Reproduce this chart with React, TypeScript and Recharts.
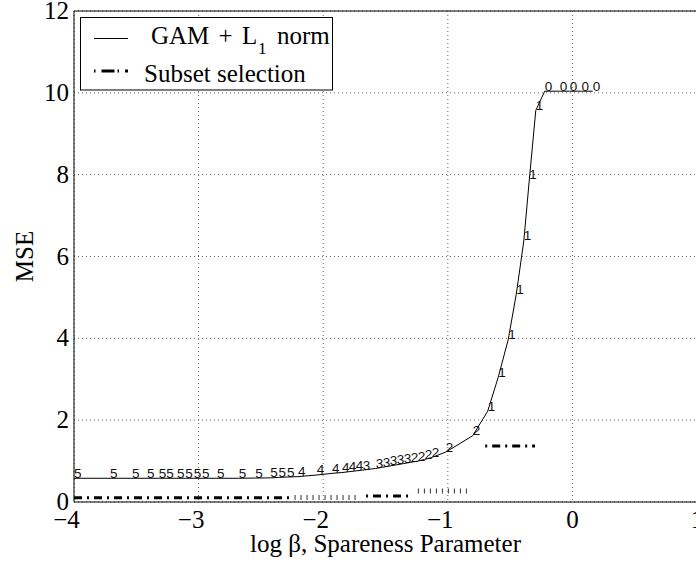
import React from 'react';
import { ComposedChart, Line, XAxis, YAxis, CartesianGrid, LabelList } from 'recharts';

// axes
const xTicks = [-4, -3, -2, -1, 0, 1];
const yTicks = [0, 2, 4, 6, 8, 10, 12];

// GAM + L1 norm path, with the number of kept terms written at each point
const gamX = [
  -4.0, -3.711, -3.534, -3.414, -3.32, -3.259, -3.173, -3.107, -3.039, -2.973, -2.852, -2.678, -2.545, -2.425, -2.358, -2.291,
  -2.203, -2.051, -1.93, -1.85, -1.794, -1.738,
  -1.682, -1.578, -1.522, -1.466, -1.409, -1.353,
  -1.297, -1.241, -1.185, -1.128, -1.016, -0.8,
  -0.68, -0.595, -0.515, -0.451, -0.39, -0.346, -0.294,
  -0.222, -0.102, -0.022, 0.074, 0.163,
];
const gamY = [
  0.58, 0.58, 0.58, 0.58, 0.58, 0.58, 0.58, 0.58, 0.58, 0.58, 0.58, 0.58, 0.585, 0.59, 0.6, 0.61,
  0.62, 0.66, 0.7, 0.72, 0.74, 0.76,
  0.78, 0.82, 0.85, 0.88, 0.91, 0.94,
  0.97, 1.0, 1.04, 1.09, 1.22, 1.62,
  2.22, 3.05, 3.97, 5.07, 6.38, 7.87, 9.57,
  10.04, 10.04, 10.04, 10.04, 10.04,
];
const gamK = [
  '5', '5', '5', '5', '5', '5', '5', '5', '5', '5', '5', '5', '5', '5', '5', '5',
  '4', '4', '4', '4', '4', '4',
  '3', '3', '3', '3', '3', '3',
  '2', '2', '2', '2', '2', '2',
  '1', '1', '1', '1', '1', '1', '1',
  '0', '0', '0', '0', '0',
];

// subset selection: flat pieces (start x, end x, level)
const subsetStart = [-4.0, -2.23, -1.656, -1.24, -0.7];
const subsetEnd = [-2.27, -1.7, -1.296, -0.82, -0.3];
const subsetLevel = [0.105, 0.11, 0.147, 0.27, 1.37];

const gamData = gamX.map((x, i) => ({ x, y: gamY[i], k: gamK[i] }));
const subsetData = subsetStart.map((s, i) => [
  { x: s, y: subsetLevel[i] },
  { x: subsetEnd[i], y: subsetLevel[i] },
]);

const serif = '"Liberation Serif", "Times New Roman", serif';
const sans = '"Liberation Sans", Arial, sans-serif';

// dash-dot pieces vs. the ones that only show as little ticks
const dashDot = { strokeWidth: 3, strokeDasharray: '8 5 2 5', stroke: '#000' };
const tickRow = { strokeWidth: 5, strokeDasharray: '1 5', stroke: '#333' };
const subsetStyle = [
  { ...dashDot, strokeDashoffset: 0 },
  tickRow,
  { ...dashDot, strokeDashoffset: 13 },
  tickRow,
  { ...dashDot, strokeDashoffset: 13 },
];

function XTick(props: any) {
  const { x, y, payload } = props;
  const v = payload.value;
  const txt = v < 0 ? `\u2212${Math.abs(v)}` : String(v);
  return (
    <text x={x + (v < 0 ? -7.5 : 0)} y={y + 26} textAnchor="middle" fontFamily={serif} fontSize={25} fill="#000">
      {txt}
    </text>
  );
}

function YTick(props: any) {
  const { x, y, payload } = props;
  return (
    <text x={x - 5} y={y + 8} textAnchor="end" fontFamily={serif} fontSize={25} fill="#000">
      {payload.value}
    </text>
  );
}

function StepLabel(props: any) {
  const { x, y, value } = props;
  return (
    <text x={x} y={y - 0.5} fontFamily={sans} fontSize={13.5} fill="#111">
      {value}
    </text>
  );
}

function LegendBox() {
  return (
    <svg width={696} height={120} style={{ position: 'absolute', left: 0, top: 0, pointerEvents: 'none' }}>
      <rect x={80.5} y={17.5} width={252} height={72.5} fill="#fff" stroke="#000" strokeWidth={1} />
      <line x1={94} x2={128} y1={38.5} y2={38.5} stroke="#000" strokeWidth={1} />
      <text fontFamily={serif} fontSize={25} fill="#000">
        <tspan x={151} y={43.5} wordSpacing={3}>GAM + L</tspan>
        <tspan x={258} y={54} fontSize={17}>1</tspan>
        <tspan x={277} y={43.5}>norm</tspan>
      </text>
      <line
        x1={94}
        x2={128}
        y1={71}
        y2={71}
        stroke="#000"
        strokeWidth={3}
        strokeDasharray="1.5 6 13 3"
      />
      <text x={144} y={82} fontFamily={serif} fontSize={25} fill="#000">
        Subset selection
      </text>
    </svg>
  );
}

export default function App() {
  return (
    <div
      style={{
        position: 'absolute',
        left: 0,
        top: 0,
        width: 696,
        height: 563,
        overflow: 'hidden',
        background: '#fff',
      }}
    >
      <ComposedChart width={720} height={563} margin={{ top: 11, right: 23, bottom: 31, left: 34 }}>
        <CartesianGrid stroke="#666" strokeDasharray="1 3" />

        <XAxis
          dataKey="x"
          type="number"
          domain={[-4, 1]}
          ticks={xTicks}
          interval={0}
          allowDataOverflow
          height={30}
          tickLine={false}
          tickSize={0}
          tickMargin={0}
          stroke="#000"
          tick={(p: any) => <XTick {...p} />}
          label={{
            content: (p: any) => {
              const vb = p.viewBox;
              return (
                <text
                  x={vb.x + vb.width / 2}
                  y={vb.y + 50}
                  textAnchor="middle"
                  fontFamily={serif}
                  fontSize={25}
                  fill="#000"
                >
                  log β, Spareness Parameter
                </text>
              );
            },
          }}
        />
        <YAxis
          type="number"
          domain={[0, 12]}
          ticks={yTicks}
          interval={0}
          allowDataOverflow
          width={40}
          tickLine={false}
          tickSize={0}
          tickMargin={0}
          stroke="#000"
          tick={(p: any) => <YTick {...p} />}
          label={{
            content: (p: any) => {
              const vb = p.viewBox;
              const cx = vb.x - 1;
              const cy = vb.y + vb.height / 2;
              return (
                <text
                  x={cx}
                  y={cy}
                  transform={`rotate(-90 ${cx} ${cy})`}
                  textAnchor="middle"
                  fontFamily={serif}
                  fontSize={25}
                  fill="#000"
                >
                  MSE
                </text>
              );
            },
          }}
        />

        {/* inward ticks and the rest of the box */}
        <XAxis xAxisId="top" orientation="top" type="number" domain={[-4, 1]} ticks={xTicks} interval={0}
          mirror tick={false} tickSize={6} stroke="#000" height={10} allowDataOverflow />
        <XAxis xAxisId="bm" orientation="bottom" type="number" domain={[-4, 1]} ticks={xTicks} interval={0}
          mirror tick={false} tickSize={6} axisLine={false} stroke="#000" height={10} allowDataOverflow />
        <YAxis yAxisId="right" orientation="right" type="number" domain={[0, 12]} ticks={yTicks} interval={0}
          mirror tick={false} tickSize={6} stroke="#000" width={10} allowDataOverflow />
        <YAxis yAxisId="lm" orientation="left" type="number" domain={[0, 12]} ticks={yTicks} interval={0}
          mirror tick={false} tickSize={6} axisLine={false} stroke="#000" width={10} allowDataOverflow />

        {subsetData.map((d, i) => (
          <Line
            key={`subset-${i}`}
            data={d}
            dataKey="y"
            type="linear"
            dot={false}
            activeDot={false}
            isAnimationActive={false}
            {...subsetStyle[i]}
          />
        ))}

        <Line
          data={gamData}
          dataKey="y"
          type="linear"
          stroke="#000"
          strokeWidth={1}
          dot={false}
          activeDot={false}
          isAnimationActive={false}
        >
          <LabelList dataKey="k" content={(p: any) => <StepLabel {...p} />} />
        </Line>
      </ComposedChart>
      <LegendBox />
    </div>
  );
}
